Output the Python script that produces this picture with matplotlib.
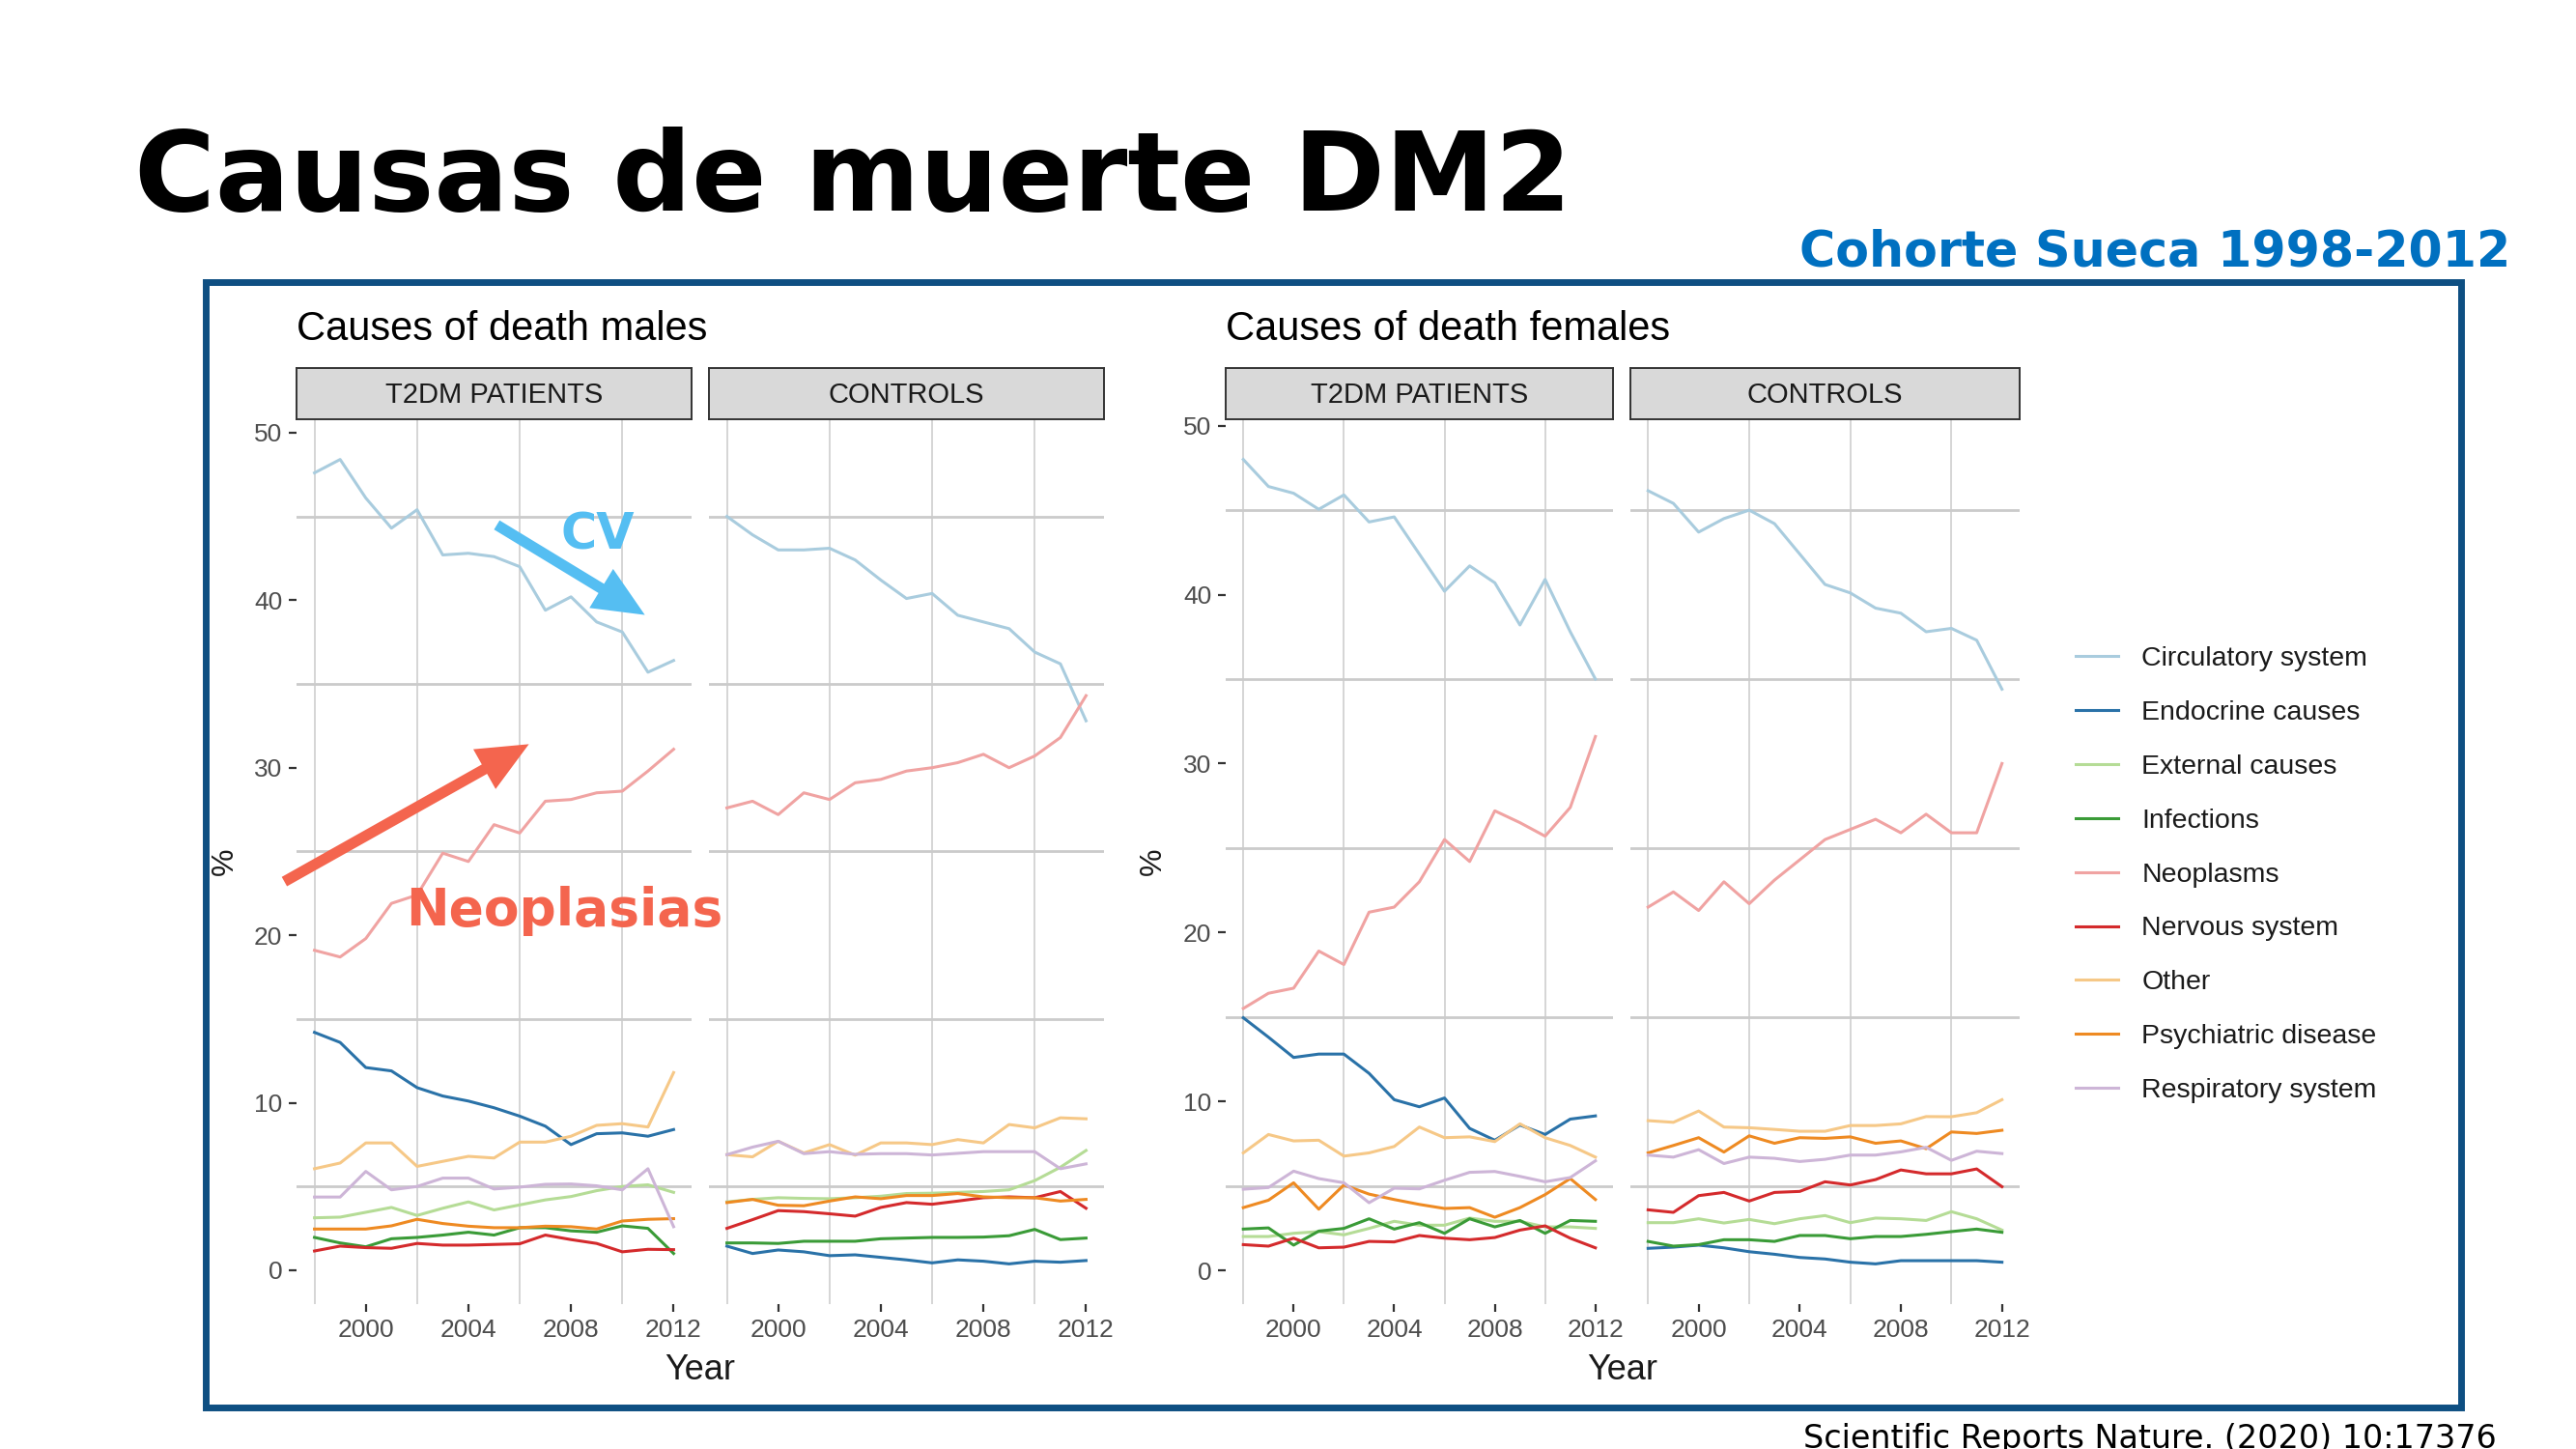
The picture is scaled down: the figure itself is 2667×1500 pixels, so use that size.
import numpy as np
import matplotlib
matplotlib.use("Agg")
import matplotlib.pyplot as plt
from matplotlib.patches import Rectangle, FancyArrowPatch
from matplotlib.ticker import FixedLocator

years = [1998, 1999, 2000, 2001, 2002, 2003, 2004, 2005, 2006, 2007, 2008, 2009, 2010, 2011, 2012]

causes = ["Circulatory system", "Endocrine causes", "External causes", "Infections",
          "Neoplasms", "Nervous system", "Other", "Psychiatric disease", "Respiratory system"]
colors = ["#A9CCDE", "#2A72A8", "#B5DC96", "#3A9B37", "#F0A3A2", "#D42A2C",
          "#F6C887", "#EE8A22", "#CDB5D7"]

# males, T2DM patients (order as in causes)
male_t2dm = [
    [47.6, 48.4, 46.1, 44.3, 45.4, 42.7, 42.8, 42.6, 42.0, 39.4, 40.2, 38.7, 38.1, 35.7, 36.4],
    [14.2, 13.6, 12.1, 11.9, 10.9, 10.4, 10.1, 9.7, 9.2, 8.6, 7.5, 8.15, 8.2, 8.0, 8.4],
    [3.13, 3.17, 3.46, 3.75, 3.27, 3.7, 4.08, 3.6, 3.9, 4.2, 4.4, 4.75, 5.0, 5.1, 4.65],
    [1.96, 1.63, 1.4, 1.88, 1.96, 2.1, 2.27, 2.1, 2.54, 2.54, 2.35, 2.27, 2.65, 2.5, 1.0],
    [19.1, 18.7, 19.8, 21.9, 22.4, 24.9, 24.4, 26.6, 26.1, 28.0, 28.1, 28.5, 28.6, 29.8, 31.1],
    [1.15, 1.44, 1.35, 1.31, 1.6, 1.5, 1.5, 1.54, 1.58, 2.1, 1.83, 1.6, 1.1, 1.25, 1.23],
    [6.06, 6.4, 7.6, 7.6, 6.2, 6.5, 6.8, 6.7, 7.65, 7.65, 8.0, 8.65, 8.75, 8.55, 11.8],
    [2.46, 2.46, 2.46, 2.65, 3.04, 2.79, 2.63, 2.54, 2.54, 2.63, 2.6, 2.46, 2.94, 3.04, 3.08],
    [4.37, 4.37, 5.9, 4.8, 5.0, 5.5, 5.5, 4.85, 4.96, 5.13, 5.15, 5.04, 4.8, 6.06, 2.6],
]
male_ctrl = [
    [45.0, 43.9, 43.0, 43.0, 43.1, 42.4, 41.2, 40.1, 40.4, 39.1, 38.7, 38.3, 36.9, 36.2, 32.8],
    [1.44, 1.0, 1.21, 1.1, 0.87, 0.92, 0.77, 0.62, 0.44, 0.62, 0.54, 0.38, 0.54, 0.48, 0.58],
    [4.08, 4.23, 4.33, 4.29, 4.27, 4.33, 4.42, 4.58, 4.6, 4.65, 4.7, 4.8, 5.35, 6.15, 7.15],
    [1.63, 1.63, 1.6, 1.73, 1.73, 1.73, 1.88, 1.92, 1.96, 1.96, 1.98, 2.06, 2.44, 1.83, 1.92],
    [27.6, 28.0, 27.2, 28.5, 28.1, 29.1, 29.3, 29.8, 30.0, 30.3, 30.8, 30.0, 30.7, 31.8, 34.3],
    [2.5, 3.02, 3.56, 3.5, 3.37, 3.23, 3.75, 4.04, 3.94, 4.13, 4.33, 4.38, 4.33, 4.7, 3.7],
    [6.9, 6.77, 7.7, 7.0, 7.5, 6.87, 7.6, 7.6, 7.5, 7.8, 7.6, 8.7, 8.5, 9.1, 9.04],
    [4.04, 4.23, 3.88, 3.85, 4.13, 4.38, 4.27, 4.46, 4.46, 4.58, 4.38, 4.33, 4.33, 4.13, 4.23],
    [6.9, 7.35, 7.7, 6.96, 7.08, 6.92, 6.96, 6.96, 6.88, 6.98, 7.08, 7.08, 7.08, 6.06, 6.35],
]
female_t2dm = [
    [48.0, 46.4, 46.0, 45.05, 45.9, 44.3, 44.6, 42.4, 40.2, 41.7, 40.7, 38.2, 40.9, 37.8, 35.0],
    [14.95, 13.8, 12.6, 12.8, 12.8, 11.66, 10.1, 9.68, 10.2, 8.4, 7.7, 8.6, 8.04, 8.95, 9.14],
    [2.0, 2.0, 2.19, 2.29, 2.1, 2.48, 2.9, 2.67, 2.67, 3.09, 2.9, 2.9, 2.57, 2.57, 2.48],
    [2.44, 2.51, 1.49, 2.32, 2.48, 3.05, 2.44, 2.82, 2.19, 3.05, 2.57, 2.95, 2.19, 2.95, 2.9],
    [15.5, 16.4, 16.7, 18.9, 18.1, 21.2, 21.5, 23.0, 25.5, 24.2, 27.2, 26.5, 25.7, 27.4, 31.6],
    [1.52, 1.43, 1.9, 1.33, 1.37, 1.71, 1.68, 2.06, 1.9, 1.81, 1.94, 2.38, 2.63, 1.9, 1.33],
    [6.95, 8.04, 7.66, 7.7, 6.76, 6.95, 7.33, 8.48, 7.85, 7.9, 7.62, 8.67, 7.85, 7.39, 6.7],
    [3.71, 4.15, 5.18, 3.62, 5.05, 4.51, 4.19, 3.9, 3.66, 3.71, 3.14, 3.71, 4.48, 5.43, 4.19],
    [4.8, 4.9, 5.87, 5.43, 5.18, 4.0, 4.86, 4.82, 5.33, 5.8, 5.85, 5.56, 5.24, 5.49, 6.48],
]
female_ctrl = [
    [46.15, 45.4, 43.7, 44.5, 45.0, 44.2, 42.4, 40.6, 40.1, 39.2, 38.9, 37.8, 38.0, 37.3, 34.4],
    [1.3, 1.37, 1.49, 1.33, 1.1, 0.95, 0.76, 0.67, 0.48, 0.38, 0.57, 0.57, 0.57, 0.57, 0.48],
    [2.82, 2.82, 3.05, 2.8, 3.01, 2.76, 3.05, 3.24, 2.82, 3.09, 3.05, 2.95, 3.47, 3.05, 2.38],
    [1.71, 1.43, 1.52, 1.81, 1.81, 1.71, 2.06, 2.06, 1.87, 2.0, 2.0, 2.13, 2.29, 2.44, 2.25],
    [21.5, 22.4, 21.3, 23.0, 21.7, 23.1, 24.3, 25.5, 26.1, 26.7, 25.9, 27.0, 25.9, 25.9, 30.0],
    [3.58, 3.43, 4.42, 4.61, 4.1, 4.61, 4.67, 5.24, 5.05, 5.37, 5.94, 5.71, 5.71, 6.0, 4.95],
    [8.86, 8.76, 9.43, 8.48, 8.44, 8.34, 8.23, 8.23, 8.57, 8.57, 8.67, 9.1, 9.09, 9.33, 10.1],
    [6.95, 7.39, 7.85, 7.0, 7.96, 7.52, 7.85, 7.81, 7.9, 7.52, 7.66, 7.2, 8.19, 8.1, 8.29],
    [6.82, 6.7, 7.14, 6.32, 6.7, 6.63, 6.44, 6.57, 6.82, 6.82, 7.01, 7.28, 6.51, 7.05, 6.91],
]

W, H = 2667, 1500
def fx(x):
    return x / W
def fy(y):
    return 1 - y / H

GG = "Liberation Sans"
fig = plt.figure(figsize=(W / 100, H / 100), dpi=100)
fig.patch.set_facecolor("white")

# slide texts
fig.text(fx(139), fy(218), "Causas de muerte DM2", fontsize=82.3, fontweight="bold",
         family="DejaVu Sans", color="black", va="baseline", ha="left")
fig.text(fx(2599), fy(276), "Cohorte Sueca 1998-2012", fontsize=36.5, fontweight="bold",
         family="DejaVu Sans", color="#0070C0", va="baseline", ha="right")
fig.text(fx(2585), fy(1499), "Scientific Reports Nature. (2020) 10:17376", fontsize=24,
         family="DejaVu Sans", color="black", va="baseline", ha="right")
fig.add_artist(Rectangle((fx(213), fy(1457)), fx(2548) - fx(213), (1457 - 292) / H,
                         fill=False, edgecolor="#0E4F82", lw=5, transform=fig.transFigure))

top, bot = 434, 1350
panels = [
    (307, 716, male_t2dm, "T2DM PATIENTS", True),
    (734, 1143, male_ctrl, "CONTROLS", False),
    (1269, 1670, female_t2dm, "T2DM PATIENTS", True),
    (1688, 2091, female_ctrl, "CONTROLS", False),
]
sexes = [(male_t2dm, male_ctrl, "Causes of death males", 307, 233, 725),
         (female_t2dm, female_ctrl, "Causes of death females", 1269, 1194, 1680)]

ylims = []
for a, b, *_ in sexes:
    allv = np.concatenate([np.ravel(a), np.ravel(b)])
    lo, hi = allv.min(), allv.max()
    pad = 0.05 * (hi - lo)
    ylims.append((lo - pad, hi + pad))

handles = []
for i, (x0, x1, data, strip, left) in enumerate(panels):
    ax = fig.add_axes([fx(x0), fy(bot), fx(x1) - fx(x0), (bot - top) / H])
    ax.set_facecolor("white")
    for s in ax.spines.values():
        s.set_visible(False)
    ax.set_xlim(1997.3, 2012.7)
    ax.set_ylim(*ylims[i // 2])
    ax.set_xticks([2000, 2004, 2008, 2012])
    ax.set_yticks([0, 10, 20, 30, 40, 50])
    ax.xaxis.set_minor_locator(FixedLocator([1998, 2002, 2006, 2010]))
    ax.yaxis.set_minor_locator(FixedLocator([5, 15, 25, 35, 45]))
    ax.grid(which="minor", axis="y", color="#CBCBCB", lw=2.0)
    ax.grid(which="minor", axis="x", color="#D2D2D2", lw=1.3)
    ax.set_axisbelow(True)
    ax.tick_params(which="minor", length=0)
    ax.tick_params(which="major", length=5.5, width=1.6, color="#333333",
                   labelsize=19, labelcolor="#4D4D4D", pad=5)
    for lab in ax.get_xticklabels() + ax.get_yticklabels():
        lab.set_family(GG)
    if not left:
        ax.tick_params(axis="y", left=False, labelleft=False)
    for k, c in enumerate(causes):
        ln, = ax.plot(years, data[k], color=colors[k], lw=2.2, label=c)
        if i == 0:
            handles.append(ln)
    # facet strip
    sax = fig.add_axes([fx(x0), fy(434), fx(x1) - fx(x0), (434 - 381) / H])
    sax.set_facecolor("#D9D9D9")
    sax.set_xticks([])
    sax.set_yticks([])
    for s in sax.spines.values():
        s.set_color("#333333")
        s.set_linewidth(1.4)
    sax.text(0.5, 0.48, strip, transform=sax.transAxes, ha="center", va="center",
             fontsize=21, family=GG, color="#1A1A1A")

for a, b, title, tx, px, yx in sexes:
    fig.text(fx(tx), fy(352), title, fontsize=30, family=GG, color="black",
             va="baseline", ha="left")
    fig.text(fx(px), fy(892), "%", fontsize=23, family=GG, color="#1A1A1A",
             rotation=90, va="center", ha="center")
    fig.text(fx(yx), fy(1428), "Year", fontsize=26, family=GG, color="#1A1A1A",
             va="baseline", ha="center")

fig.legend(handles, causes, loc="upper left", bbox_to_anchor=(fx(2149), fy(669)),
           frameon=False, prop={"family": GG, "size": 20.5}, labelcolor="#1A1A1A",
           handlelength=1.55, handletextpad=0.85, labelspacing=1.05,
           borderpad=0, borderaxespad=0)

# annotations
fig.add_artist(FancyArrowPatch((fx(512), fy(542)), (fx(670), fy(638)), transform=fig.transFigure,
                               arrowstyle="simple,head_length=38,head_width=34,tail_width=8",
                               mutation_scale=1, color="#55BEF2", lw=0))
fig.add_artist(FancyArrowPatch((fx(292), fy(914)), (fx(550), fy(769)), transform=fig.transFigure,
                               arrowstyle="simple,head_length=38,head_width=34,tail_width=8",
                               mutation_scale=1, color="#F4654E", lw=0))
fig.text(fx(619), fy(568), "CV", fontsize=36.5, fontweight="bold", family="DejaVu Sans",
         color="#55BEF2", ha="center", va="baseline")
fig.text(fx(584), fy(958), "Neoplasias", fontsize=38.5, fontweight="bold", family="DejaVu Sans",
         color="#F4654E", ha="center", va="baseline")

fig.savefig("out.png", dpi=100)
